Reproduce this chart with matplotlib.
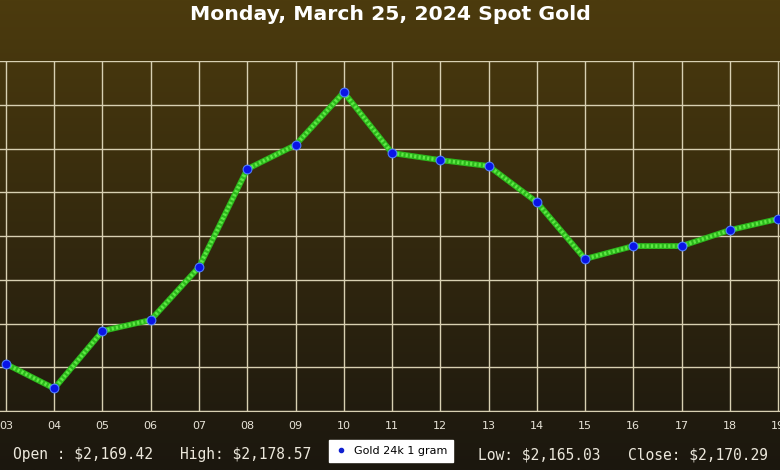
import numpy as np
import matplotlib
matplotlib.use("Agg")
import matplotlib.pyplot as plt
from matplotlib.lines import Line2D

hours = [3, 4, 5, 6, 7, 8, 9, 10, 11, 12, 13, 14, 15, 16, 17, 18, 19]
hour_labels = ["03", "04", "05", "06", "07", "08", "09", "10", "11", "12",
               "13", "14", "15", "16", "17", "18", "19"]
prices = [2166.15, 2165.03, 2167.66, 2168.16, 2170.58, 2175.06, 2176.16,
          2178.57, 2175.79, 2175.47, 2175.20, 2173.55, 2170.95, 2171.54,
          2171.54, 2172.27, 2172.78]
title = "Monday, March 25, 2024 Spot Gold"
series_name = "Gold 24k 1 gram"
stats = [("Open : $2,169.42", 13), ("High: $2,178.57", 180),
         ("Low: $2,165.03", 478), ("Close: $2,170.29", 628)]

W, H = 780, 470
fig = plt.figure(figsize=(W / 100, H / 100), dpi=100)

# background gradient
bg = fig.add_axes([0, 0, 1, 1], zorder=0)
top = np.array([76, 59, 13]) / 255
bot = np.array([27, 23, 15]) / 255
t = np.linspace(0, 1, 256)[:, None]
grad = top[None, None, :] * (1 - t[:, :, None]) + bot[None, None, :] * t[:, :, None]
grad = np.repeat(grad, 2, axis=1)
bg.imshow(grad, aspect="auto", extent=[0, 1, 0, 1])
bg.set_axis_off()

x0, x1 = 2.876, 19.04
ax = fig.add_axes([0, (H - 411) / H, 1, 350 / H], zorder=1)
ax.patch.set_alpha(0)
ax.set_xlim(x0, x1)
ax.set_ylim(2164, 2180)
ax.set_yticks(np.arange(2164, 2181, 2))
ax.set_xticks(hours)
ax.set_xticklabels(hour_labels)
grid_c = "#d8d0b2"
ax.grid(True, color=grid_c, linewidth=1)
for s in ["top", "right", "left"]:
    ax.spines[s].set_visible(False)
ax.spines["bottom"].set_color(grid_c)
ax.tick_params(axis="x", colors="#e8e4d8", labelsize=8, length=0, pad=7)
ax.tick_params(axis="y", left=False, labelleft=False)

ax.plot(hours, prices, color="#2cb81c", linewidth=4.2, solid_capstyle="round", zorder=3)
ax.plot(hours, prices, color="#5ee844", linewidth=2.6, dashes=(0.6, 0.6), zorder=3.1)
ax.plot(hours, prices, linestyle="none", marker="o", markersize=6.3,
        markerfacecolor="#0a14e6", markeredgecolor="#4d7cff", markeredgewidth=0.8,
        zorder=4, clip_on=False)

fig.text(0.5, 1 - 14 / H, title, ha="center", va="center", color="white",
         fontsize=14.7, fontweight="bold")

for txt, px in stats:
    fig.text(px / W, 1 - 455 / H, txt, ha="left", va="center", color="#ece8dc",
             fontsize=10.5, family="DejaVu Sans Mono")

handle = Line2D([], [], linestyle="none", marker="o", markersize=3,
                markerfacecolor="#1020d0", markeredgecolor="#1020d0")
leg = fig.legend([handle], [series_name], loc="center",
                 bbox_to_anchor=(391 / W, 1 - 451 / H), fontsize=8,
                 frameon=True, fancybox=False, handlelength=1.2,
                 borderpad=0.5, handletextpad=0.6)
leg.get_frame().set_facecolor("white")
leg.get_frame().set_edgecolor("white")
leg.get_frame().set_alpha(1)

fig.savefig("out.png", dpi=100)
